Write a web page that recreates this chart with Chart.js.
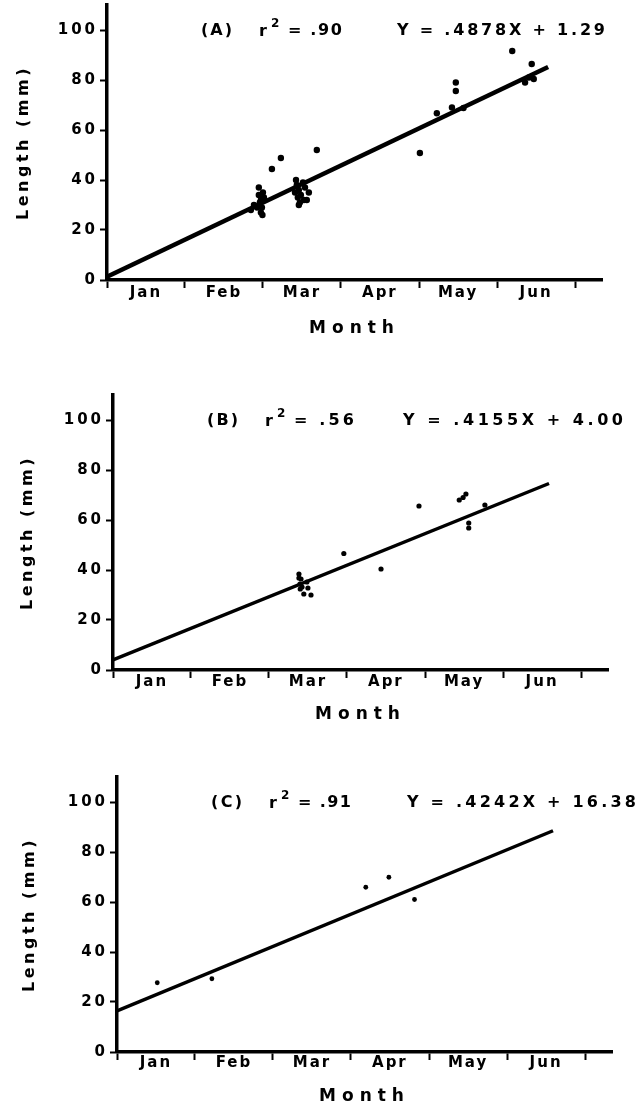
<!DOCTYPE html>
<html>
<head>
<meta charset="utf-8">
<script src="https://cdn.jsdelivr.net/npm/chart.js"></script>
<style>
body{margin:0;background:#fff;}
#wrap{position:relative;width:639px;height:1108px;background:#fff;}
canvas{position:absolute;left:0;}
</style>
</head>
<body>
<div id="wrap">
<canvas id="gA" width="639" height="360" style="top:0px"></canvas>
<canvas id="gB" width="639" height="390" style="top:370px"></canvas>
<canvas id="gC" width="639" height="348" style="top:760px"></canvas>
</div>
<script>
// months along x (day of year), length in mm along y
const months = ['Jan','Feb','Mar','Apr','May','Jun'];
const monthEdges = [0, 30.4, 60.8, 91.2, 121.7, 152.1, 182.5];
const lengthTicks = [0, 20, 40, 60, 80, 100];

// (A)
const aDays = [56.1, 57.3, 58.5, 59.2, 59.2, 59.6, 60.0, 60.0, 60.4, 60.8, 61.2, 60.6,
  73.3, 73.7, 74.0, 74.4, 74.8, 74.8, 75.2, 75.6, 76.4, 76.8, 77.2, 77.9, 78.7,
  64.3, 67.8, 81.8, 122.0, 128.6, 134.5, 136.0, 136.0, 139.0,
  158.0, 163.0, 164.5, 165.6, 166.4];
const aLength = [28, 30, 29, 37, 34, 31, 32, 27, 29, 35, 33, 26,
  35, 40, 38, 33, 36, 30, 31, 34, 39, 32, 37, 32, 35,
  44.4, 48.8, 52, 50.8, 66.7, 69, 79, 75.6, 68.8,
  91.6, 79, 81, 86.4, 80.4];
const aFitDays = [0, 172];
const aFitLength = [1.3, 85.2];

// (B)
const bDays = [72.5, 73.3, 72.9, 73.7, 75.6, 76.0, 74.4, 77.2, 72.5, 73.0,
  90.0, 104.5, 119.3, 135.0, 136.5, 137.6, 138.7, 138.7, 145.0];
const bLength = [38.4, 36.4, 34.4, 33.2, 35.2, 32.8, 30.4, 30, 36.8, 32.4,
  46.6, 40.4, 65.6, 68, 69, 70.4, 58.8, 56.8, 66];
const bFitDays = [0, 170];
const bFitLength = [4.0, 74.6];

// (C)
const cDays = [15.7, 37.0, 97.0, 106.0, 116.0];
const cLength = [27.7, 29.3, 65.9, 69.9, 61];
const cFitDays = [0, 170];
const cFitLength = [16.4, 88.5];

const fontFam = '"DejaVu Sans", "Liberation Sans", Arial, sans-serif';

// letter spacing per scale, the lettering in the figure is widely spaced
const spacing = {
    x: {drawLabels: 2, drawTitle: 6},
    y: {drawLabels: 3, drawTitle: 3.5}
};

function spacedText(ctx, text, x, y, width){
    ctx.letterSpacing = '0px';
    let w = ctx.measureText(text).width;
    let sp = Math.max(0, (width - w) / (text.length - 1));
    ctx.letterSpacing = sp + 'px';
    ctx.fillText(text, x, y);
    ctx.letterSpacing = '0px';
}

const panelText = {
    id: 'panelText',
    afterLayout(chart){
        Object.values(chart.scales).forEach(s => {
            if(s._spaced || !spacing[s.id]) return;
            s._spaced = true;
            ['drawLabels','drawTitle'].forEach(fn => {
                const orig = s[fn];
                const sp = spacing[s.id][fn];
                s[fn] = function(){
                    const c = this.ctx;
                    c.letterSpacing = sp + 'px';
                    orig.apply(this, arguments);
                    c.letterSpacing = '0px';
                };
            });
        });
    },
    afterDraw(chart, args, o){
        const ctx = chart.ctx;
        const left = chart.chartArea.left;
        const base = chart.scales.y.getPixelForValue(100) + 5;
        ctx.save();
        ctx.fillStyle = '#000';
        ctx.textAlign = 'left';
        ctx.textBaseline = 'alphabetic';
        ctx.font = 'bold 16px ' + fontFam;
        spacedText(ctx, o.tag, left + 94, base, 31);
        ctx.fillText('r', left + 152, base + 1);
        ctx.font = 'bold 12px ' + fontFam;
        ctx.fillText('2', left + 164, base - 8);
        ctx.font = 'bold 16px ' + fontFam;
        spacedText(ctx, '= ' + o.r2, left + 181, base, o.r2Width);
        spacedText(ctx, o.eq, left + 290, base, o.eqWidth);
        ctx.restore();
    }
};

const panels = [
    {id:'gA', tag:'(A)', r2:'.90', eq:'Y = .4878X + 1.29', days:aDays, len:aLength, fitDays:aFitDays, fitLen:aFitLength,
     top:5, axis:280, left:107, right:602, labelOff:13, monthOff:49, yTitleX:24, eqWidth:208, r2Width:54, dot:3.2, lineW:4.5},
    {id:'gB', tag:'(B)', r2:'.56', eq:'Y = .4155X + 4.00', days:bDays, len:bLength, fitDays:bFitDays, fitLen:bFitLength,
     top:25, axis:300, left:113, right:608, labelOff:12, monthOff:45, yTitleX:28, eqWidth:220, r2Width:60, dot:2.6, lineW:3.5},
    {id:'gC', tag:'(C)', r2:'.91', eq:'Y = .4242X + 16.38', days:cDays, len:cLength, fitDays:cFitDays, fitLen:cFitLength,
     top:17, axis:292, left:117, right:612, labelOff:11, monthOff:45, yTitleX:30, eqWidth:229, r2Width:53, dot:2.4, lineW:3.5}
];

panels.forEach(p => {
    let canvas = document.getElementById(p.id);
    let xH = p.monthOff + 10;
    let halfMonth = (p.right - p.left) / 193 * 30.4 / 2;
    let pts = p.days.map((d, i) => ({x: d, y: p.len[i]}));
    let fit = p.fitDays.map((d, i) => ({x: d, y: p.fitLen[i]}));
    new Chart(canvas.getContext('2d'), {
        type: 'scatter',
        data: {
            datasets: [{
                data: pts,
                pointRadius: p.dot,
                pointBorderWidth: 0,
                backgroundColor: '#000',
                borderColor: '#000'
            }, {
                data: fit,
                showLine: true,
                pointRadius: 0,
                borderColor: '#000',
                borderWidth: p.lineW,
                fill: false
            }]
        },
        options: {
            responsive: false,
            animation: false,
            devicePixelRatio: 1,
            events: [],
            layout: {
                autoPadding: false,
                padding: {top: p.top, left: 0, right: 639 - p.right, bottom: canvas.height - p.axis - xH}
            },
            plugins: {
                legend: {display: false},
                tooltip: {enabled: false},
                panelText: {tag: p.tag, r2: p.r2, eq: p.eq, eqWidth: p.eqWidth, r2Width: p.r2Width}
            },
            scales: {
                x: {
                    type: 'linear',
                    min: 0,
                    max: 193,
                    afterBuildTicks: s => { s.ticks = monthEdges.map(v => ({value: v})); },
                    afterFit: s => { s.height = xH; s.paddingLeft = 0; s.paddingRight = 0; },
                    border: {display: true, color: '#000', width: 3.5},
                    grid: {drawOnChartArea: false, drawTicks: true, tickLength: 8, tickWidth: 2, tickColor: '#000'},
                    ticks: {
                        color: '#000',
                        font: {family: fontFam, size: 15, weight: 'bold', lineHeight: 1.2},
                        padding: p.labelOff - 8 - 9,
                        labelOffset: halfMonth,
                        maxRotation: 0,
                        autoSkip: false,
                        callback: (v, i) => months[i] || ''
                    },
                    title: {
                        display: true,
                        text: 'Month',
                        color: '#000',
                        font: {family: fontFam, size: 17, weight: 'bold', lineHeight: 1.2},
                        padding: 0
                    }
                },
                y: {
                    min: 0,
                    max: 110,
                    afterBuildTicks: s => { s.ticks = lengthTicks.map(v => ({value: v})); },
                    afterFit: s => { s.width = p.left; s.paddingTop = 0; s.paddingBottom = 0; },
                    border: {display: true, color: '#000', width: 3.5},
                    grid: {drawOnChartArea: false, drawTicks: true, tickLength: 7, tickWidth: 2, tickColor: '#000'},
                    ticks: {
                        color: '#000',
                        font: {family: fontFam, size: 15, weight: 'bold'},
                        padding: 2
                    },
                    title: {
                        display: true,
                        text: 'Length (mm)',
                        color: '#000',
                        font: {family: fontFam, size: 16, weight: 'bold', lineHeight: 1.2},
                        padding: {top: p.yTitleX - 10, bottom: 0}
                    }
                }
            }
        },
        plugins: [panelText]
    });
});
</script>
</body>
</html>
